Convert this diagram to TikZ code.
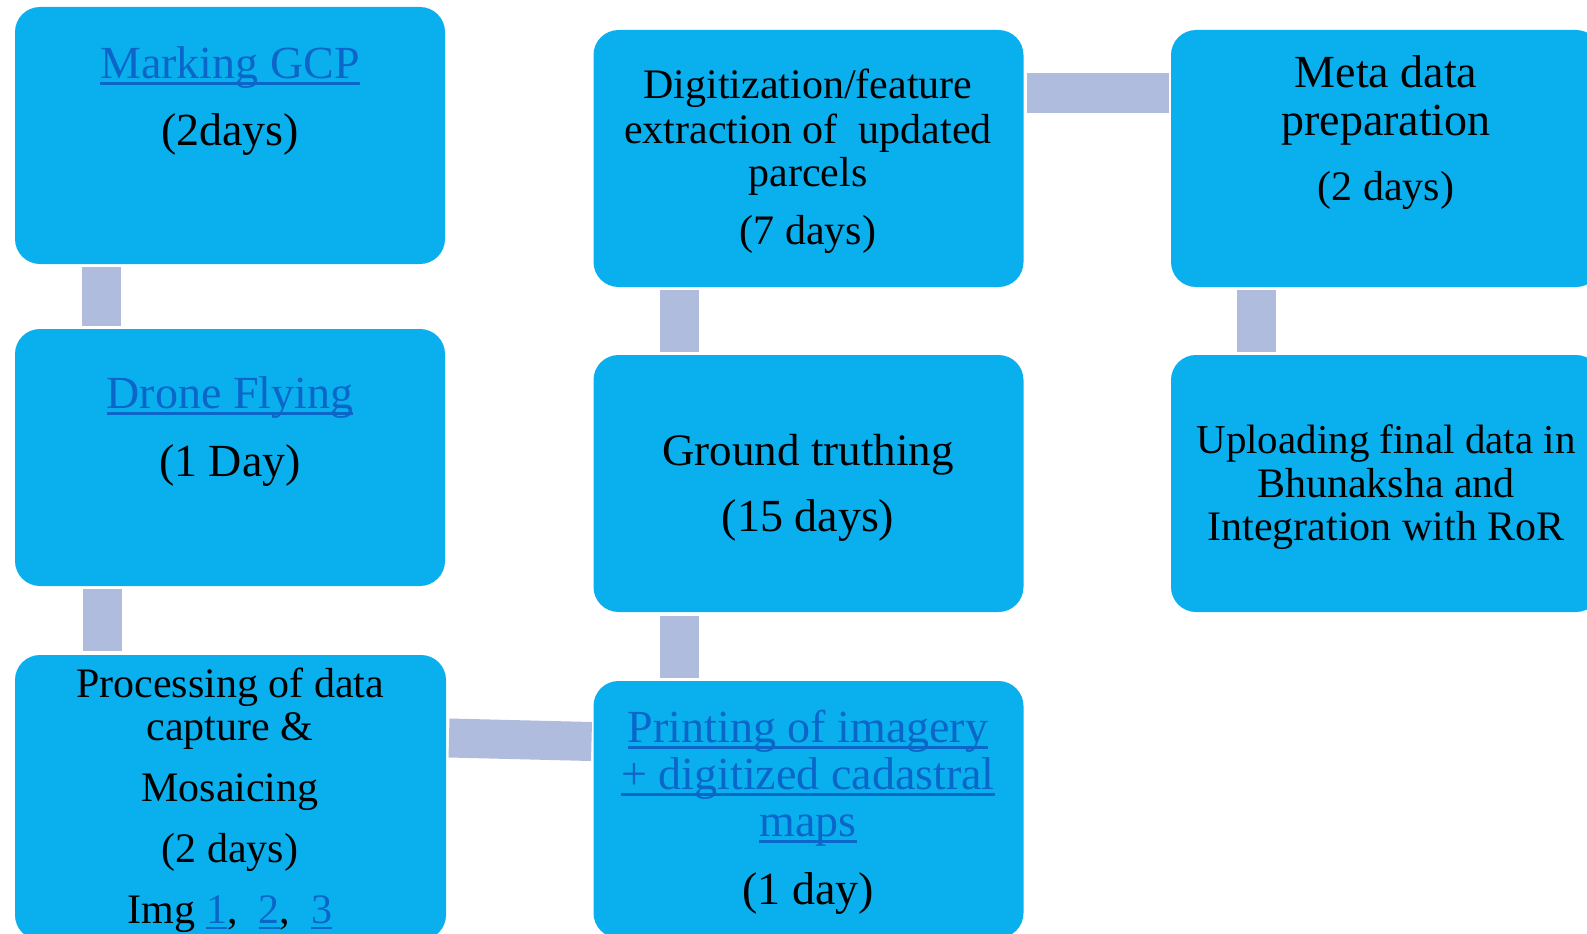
\documentclass[tikz,border=0pt]{standalone}
\usepackage{fontspec}
\setmainfont{Liberation Serif}
\usetikzlibrary{calc}
\definecolor{boxblue}{HTML}{0AB0EE}
\definecolor{connc}{HTML}{B0BCDD}
\definecolor{linkc}{HTML}{0A66C8}
\newcommand\myul[1]{\setbox0\hbox{#1}\rlap{\rule[-0.15em]{\wd0}{0.06em}}\box0}
\newcommand\fs[1]{\fontsize{#1}{#1}\selectfont}
\tikzset{
  box/.style={fill=boxblue, rounded corners=25pt, minimum width=430pt, minimum height=257pt, inner sep=0pt, outer sep=0pt},
  conn/.style={draw=connc, line width=39pt, line cap=butt},
  txt/.style={anchor=base, inner sep=0pt, text=black},
  lnk/.style={anchor=base, inner sep=0pt, text=linkc}
}
\begin{document}
\begin{tikzpicture}[x=1pt,y=-1pt]
\clip (0,0) rectangle (1587,934);
\fill[white] (0,0) rectangle (1587,934);
% boxes
\node[box] (A) at (230,135.5) {};
\node[box] (B) at (230,457.5) {};
\node[box, minimum width=431pt, minimum height=285pt] (C) at (230.5,797.5) {};
\node[box] (D) at (808.5,158.5) {};
\node[box] (E) at (808.5,483.5) {};
\node[box] (F) at (808.5,809.5) {};
\node[box] (G) at (1386,158.5) {};
\node[box] (H) at (1386,483.5) {};
% connectors
\draw[conn] ([xshift=86.5pt,yshift=-3pt]A.south west) -- ([xshift=86.5pt,yshift=3pt]B.north west);
\draw[conn] ([xshift=87pt,yshift=-3pt]B.south west) -- ([xshift=87pt,yshift=4pt]C.north west);
\draw[conn] ([xshift=85.5pt,yshift=-3pt]D.south west) -- ([xshift=85.5pt,yshift=3pt]E.north west);
\draw[conn] ([xshift=85.5pt,yshift=-4pt]E.south west) -- ([xshift=85.5pt,yshift=3pt]F.north west);
\draw[conn] ([xshift=85pt,yshift=-3pt]G.south west) -- ([xshift=85pt,yshift=3pt]H.north west);
\draw[conn, line width=40pt] ([xshift=3pt,yshift=-63pt]D.north east) -- ([xshift=-2pt,yshift=-63pt]G.north west);
\coordinate (cf1) at ($(C.north east)+(3,83)$);
\coordinate (cf2) at ($(F.north west)+(-2,60.5)$);
\draw[conn] (cf1) -- (cf2);
% texts box A
\node[lnk] (a1) at (230,78) {\fs{46}\myul{Marking GCP}};
\node[txt] (a2) at (230,145) {\fs{46}(2days)};
% box B
\node[lnk] (b1) at (230,408) {\fs{46}\myul{Drone Flying}};
\node[txt] (b2) at (230,476) {\fs{46}(1 Day)};
% box C
\node[txt] (c1) at (230,697) {\fs{42}Processing of data};
\node[txt] (c2) at (230,740) {\fs{42}capture \&};
\node[txt] (c3) at (230,801) {\fs{42}Mosaicing};
\node[txt] (c4) at (230,862) {\fs{42}(2 days)};
\node[txt] (c5) at (230,923) {\fs{42}Img \textcolor{linkc}{\myul{1}},\ \ \textcolor{linkc}{\myul{2}},\ \ \textcolor{linkc}{\myul{3}}};
% box D
\node[txt] (d1) at (808,99) {\fs{42}Digitization/feature};
\node[txt] (d2) at (808,143) {\fs{42}extraction of\ \ updated};
\node[txt] (d3) at (808,186) {\fs{42}parcels};
\node[txt] (d4) at (808,244) {\fs{42}(7 days)};
% box E
\node[txt] (e1) at (808,465) {\fs{45}Ground truthing};
\node[txt] (e2) at (808,531) {\fs{46}(15 days)};
% box F
\node[lnk] (f1) at (808,742) {\fs{46}\myul{Printing of imagery}};
\node[lnk] (f2) at (808,789) {\fs{46}\myul{+ digitized cadastral}};
\node[lnk] (f3) at (808,836) {\fs{46}\myul{maps}};
\node[txt] (f4) at (808,904) {\fs{46}(1 day)};
% box G
\node[txt] (g1) at (1386,88) {\fs{46}Meta data};
\node[txt] (g2) at (1386,135) {\fs{46}preparation};
\node[txt] (g3) at (1386,200) {\fs{42}(2 days)};
% box H
\node[txt] (h1) at (1386,453) {\fs{41}Uploading final data in};
\node[txt] (h2) at (1386,497) {\fs{42}Bhunaksha and};
\node[txt] (h3) at (1386,540) {\fs{42}Integration with RoR};
\end{tikzpicture}
\end{document}
